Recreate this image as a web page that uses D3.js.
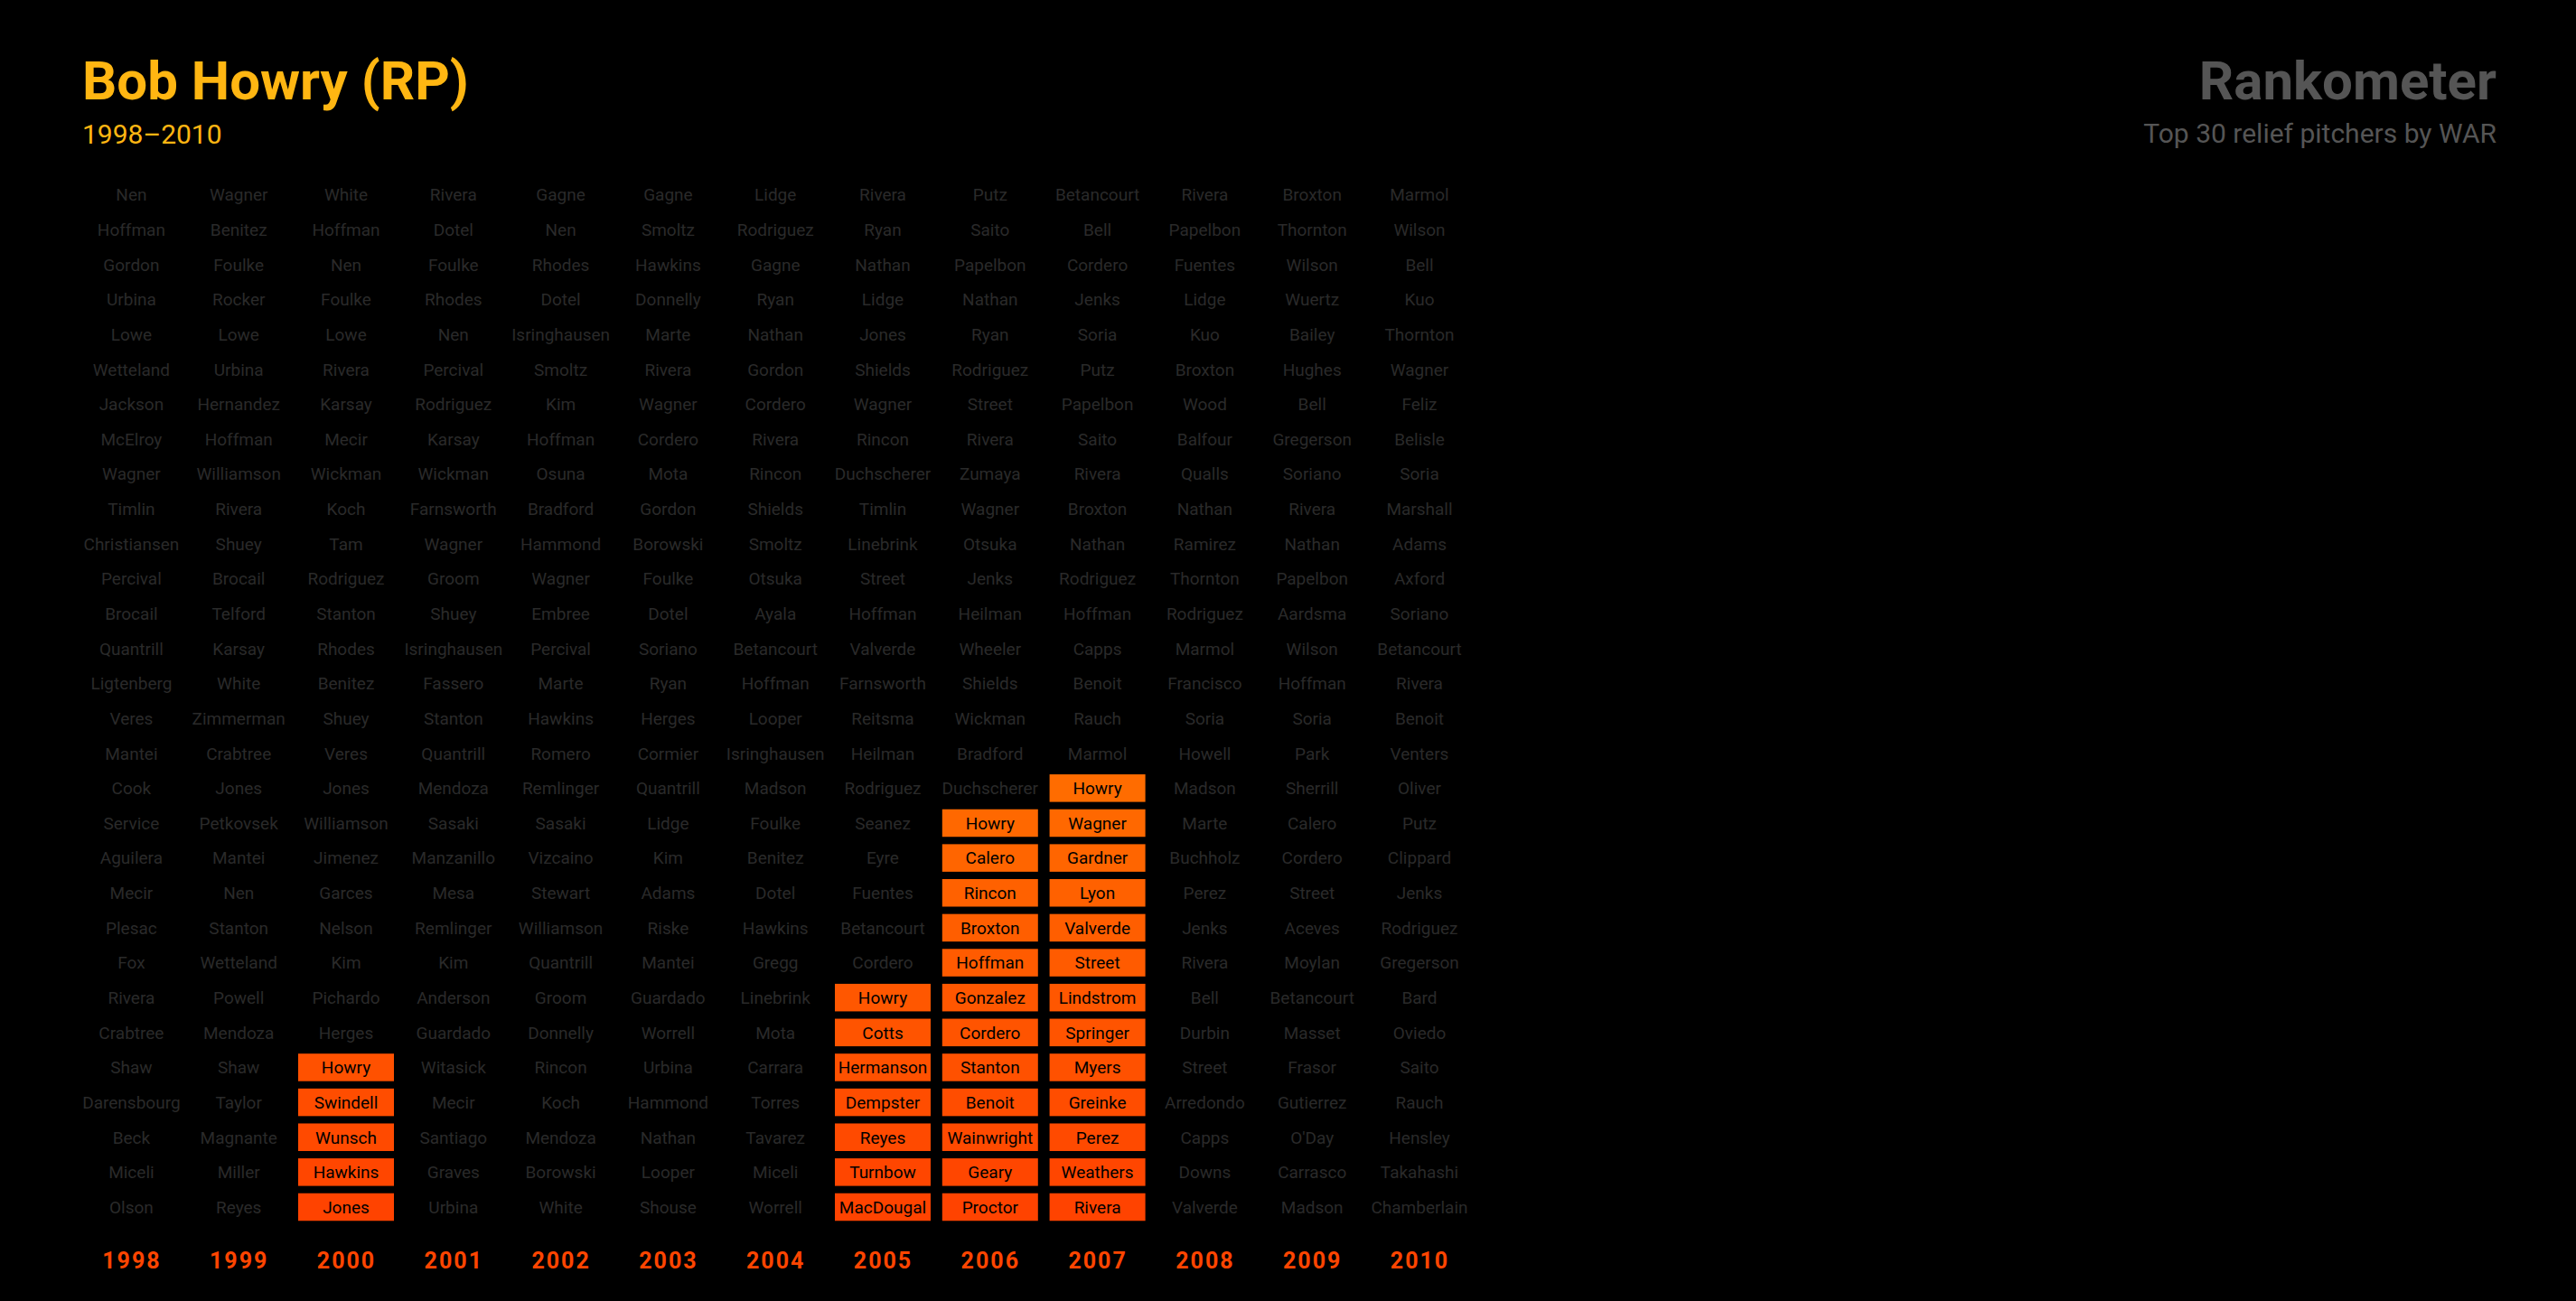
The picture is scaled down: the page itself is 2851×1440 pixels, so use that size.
<!DOCTYPE html>
<html>
<head>
<meta charset="utf-8">
<script src="https://cdn.jsdelivr.net/npm/d3@7"></script>
<style>
  html, body { margin: 0; padding: 0; background: #000; }
  svg { display: block; }
  text { font-family: Roboto, "Noto Sans", sans-serif; }
</style>
</head>
<body>
<svg id="chart" width="2851" height="1440"></svg>
<script>
const playerName = "Howry";
const titleText = "Bob Howry (RP)";
const subtitleText = "1998–2010";
const brandText = "Rankometer";
const brandSub = "Top 30 relief pitchers by WAR";

const years = [1998, 1999, 2000, 2001, 2002, 2003, 2004, 2005, 2006, 2007, 2008, 2009, 2010];
const ranks = d3.range(1, 31);

const names1998 = ["Nen","Hoffman","Gordon","Urbina","Lowe","Wetteland","Jackson","McElroy","Wagner","Timlin","Christiansen","Percival","Brocail","Quantrill","Ligtenberg","Veres","Mantei","Cook","Service","Aguilera","Mecir","Plesac","Fox","Rivera","Crabtree","Shaw","Darensbourg","Beck","Miceli","Olson"];
const names1999 = ["Wagner","Benitez","Foulke","Rocker","Lowe","Urbina","Hernandez","Hoffman","Williamson","Rivera","Shuey","Brocail","Telford","Karsay","White","Zimmerman","Crabtree","Jones","Petkovsek","Mantei","Nen","Stanton","Wetteland","Powell","Mendoza","Shaw","Taylor","Magnante","Miller","Reyes"];
const names2000 = ["White","Hoffman","Nen","Foulke","Lowe","Rivera","Karsay","Mecir","Wickman","Koch","Tam","Rodriguez","Stanton","Rhodes","Benitez","Shuey","Veres","Jones","Williamson","Jimenez","Garces","Nelson","Kim","Pichardo","Herges","Howry","Swindell","Wunsch","Hawkins","Jones"];
const names2001 = ["Rivera","Dotel","Foulke","Rhodes","Nen","Percival","Rodriguez","Karsay","Wickman","Farnsworth","Wagner","Groom","Shuey","Isringhausen","Fassero","Stanton","Quantrill","Mendoza","Sasaki","Manzanillo","Mesa","Remlinger","Kim","Anderson","Guardado","Witasick","Mecir","Santiago","Graves","Urbina"];
const names2002 = ["Gagne","Nen","Rhodes","Dotel","Isringhausen","Smoltz","Kim","Hoffman","Osuna","Bradford","Hammond","Wagner","Embree","Percival","Marte","Hawkins","Romero","Remlinger","Sasaki","Vizcaino","Stewart","Williamson","Quantrill","Groom","Donnelly","Rincon","Koch","Mendoza","Borowski","White"];
const names2003 = ["Gagne","Smoltz","Hawkins","Donnelly","Marte","Rivera","Wagner","Cordero","Mota","Gordon","Borowski","Foulke","Dotel","Soriano","Ryan","Herges","Cormier","Quantrill","Lidge","Kim","Adams","Riske","Mantei","Guardado","Worrell","Urbina","Hammond","Nathan","Looper","Shouse"];
const names2004 = ["Lidge","Rodriguez","Gagne","Ryan","Nathan","Gordon","Cordero","Rivera","Rincon","Shields","Smoltz","Otsuka","Ayala","Betancourt","Hoffman","Looper","Isringhausen","Madson","Foulke","Benitez","Dotel","Hawkins","Gregg","Linebrink","Mota","Carrara","Torres","Tavarez","Miceli","Worrell"];
const names2005 = ["Rivera","Ryan","Nathan","Lidge","Jones","Shields","Wagner","Rincon","Duchscherer","Timlin","Linebrink","Street","Hoffman","Valverde","Farnsworth","Reitsma","Heilman","Rodriguez","Seanez","Eyre","Fuentes","Betancourt","Cordero","Howry","Cotts","Hermanson","Dempster","Reyes","Turnbow","MacDougal"];
const names2006 = ["Putz","Saito","Papelbon","Nathan","Ryan","Rodriguez","Street","Rivera","Zumaya","Wagner","Otsuka","Jenks","Heilman","Wheeler","Shields","Wickman","Bradford","Duchscherer","Howry","Calero","Rincon","Broxton","Hoffman","Gonzalez","Cordero","Stanton","Benoit","Wainwright","Geary","Proctor"];
const names2007 = ["Betancourt","Bell","Cordero","Jenks","Soria","Putz","Papelbon","Saito","Rivera","Broxton","Nathan","Rodriguez","Hoffman","Capps","Benoit","Rauch","Marmol","Howry","Wagner","Gardner","Lyon","Valverde","Street","Lindstrom","Springer","Myers","Greinke","Perez","Weathers","Rivera"];
const names2008 = ["Rivera","Papelbon","Fuentes","Lidge","Kuo","Broxton","Wood","Balfour","Qualls","Nathan","Ramirez","Thornton","Rodriguez","Marmol","Francisco","Soria","Howell","Madson","Marte","Buchholz","Perez","Jenks","Rivera","Bell","Durbin","Street","Arredondo","Capps","Downs","Valverde"];
const names2009 = ["Broxton","Thornton","Wilson","Wuertz","Bailey","Hughes","Bell","Gregerson","Soriano","Rivera","Nathan","Papelbon","Aardsma","Wilson","Hoffman","Soria","Park","Sherrill","Calero","Cordero","Street","Aceves","Moylan","Betancourt","Masset","Frasor","Gutierrez","O'Day","Carrasco","Madson"];
const names2010 = ["Marmol","Wilson","Bell","Kuo","Thornton","Wagner","Feliz","Belisle","Soria","Marshall","Adams","Axford","Soriano","Betancourt","Rivera","Benoit","Venters","Oliver","Putz","Clippard","Jenks","Rodriguez","Gregerson","Bard","Oviedo","Saito","Rauch","Hensley","Takahashi","Chamberlain"];

const columns = [names1998, names1999, names2000, names2001, names2002, names2003, names2004, names2005, names2006, names2007, names2008, names2009, names2010];

// Build cell table
const cells = [];
years.forEach((yr, ci) => {
  const list = columns[ci];
  const hIdx = list.indexOf(playerName);
  list.forEach((nm, ri) => {
    cells.push({ year: yr, rank: ranks[ri], name: nm, highlight: hIdx >= 0 && ri >= hIdx });
  });
});

const svg = d3.select("#chart");
const W = 2851;

// Scales
const x = d3.scalePoint().domain(years).range([145.4, 1571]);
const y = d3.scalePoint().domain(ranks).range([215.5, 1336]);
const color = d3.scaleLinear().domain([1, 30]).range(["#ffa500", "#ff4300"]).interpolate(d3.interpolateRgb);

const cellW = 106, cellH = 30.5;

// Titles
svg.append("text").attr("x", 91).attr("y", 110)
  .attr("fill", "#ffb612").attr("font-size", 60).attr("font-weight", 700)
  .text(titleText);
svg.append("text").attr("x", 91).attr("y", 159)
  .attr("fill", "#ffb612").attr("font-size", 30).attr("font-weight", 400)
  .text(subtitleText);
svg.append("text").attr("x", W - 88).attr("y", 110).attr("text-anchor", "end")
  .attr("fill", "#555555").attr("font-size", 60).attr("font-weight", 700)
  .text(brandText);
svg.append("text").attr("x", W - 88).attr("y", 158).attr("text-anchor", "end")
  .attr("fill", "#555555").attr("font-size", 30).attr("font-weight", 400)
  .text(brandSub);

// Cells
const g = svg.append("g");
g.selectAll("rect.hl").data(cells.filter(d => d.highlight)).join("rect")
  .attr("class", "hl")
  .attr("x", d => x(d.year) - cellW / 2)
  .attr("y", d => y(d.rank) - cellH / 2)
  .attr("width", cellW).attr("height", cellH)
  .attr("fill", d => color(d.rank));

g.selectAll("text.nm").data(cells).join("text")
  .attr("class", "nm")
  .attr("x", d => x(d.year))
  .attr("y", d => y(d.rank))
  .attr("dy", "0.36em")
  .attr("text-anchor", "middle")
  .attr("font-size", 19)
  .attr("fill", d => d.highlight ? "#000" : "#2a2a2a")
  .text(d => d.name);

// Year axis
const axis = d3.axisBottom(x).tickSize(0).tickPadding(0).tickFormat(d3.format("d"));
const ag = svg.append("g").attr("transform", "translate(0,1386)").call(axis);
ag.select(".domain").remove();
ag.selectAll("text")
  .attr("fill", "#ff4500")
  .attr("font-size", 25)
  .attr("font-weight", 700)
  .attr("letter-spacing", "2px")
  .attr("font-family", "Roboto, sans-serif");
</script>
</body>
</html>
